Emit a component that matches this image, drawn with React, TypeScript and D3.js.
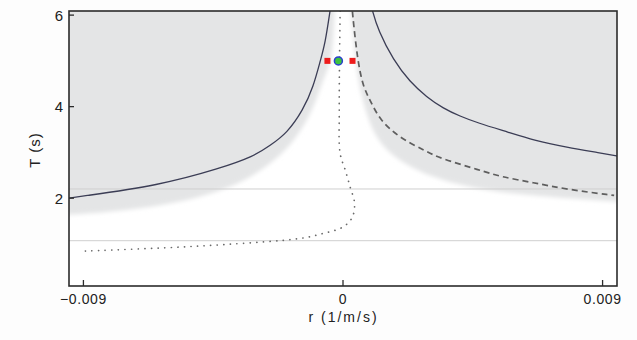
import React from 'react';
import * as d3 from 'd3';

// axis ticks
const xTicks = [-0.009, 0, 0.009];
const yTicks = [2, 4, 6];
const refLinesT = [2.2, 1.07];

// solid curve, left branch
const solidLeftR = [-0.0096, -0.0093, -0.00634, -0.00426, -0.0031, -0.00253, -0.00194, -0.00138, -0.00103, -0.00078, -0.00062, -0.00045, -0.0004];
const solidLeftT = [1.99, 2.02, 2.28, 2.65, 2.91, 3.15, 3.42, 3.93, 4.43, 5.02, 5.38, 6.09, 6.3];

// solid curve, right branch
const solidRightR = [0.00095, 0.00102, 0.00122, 0.00174, 0.00232, 0.0029, 0.00348, 0.00406, 0.00464, 0.00579, 0.00659, 0.00777, 0.00891, 0.0096];
const solidRightT = [6.3, 6.09, 5.67, 5.02, 4.54, 4.21, 3.96, 3.79, 3.65, 3.43, 3.27, 3.11, 2.99, 2.91];

// dashed curve
const dashedR = [0.0003, 0.00032, 0.0005, 0.0007, 0.00094, 0.00128, 0.00198, 0.0029, 0.00336, 0.00476, 0.00544, 0.00659, 0.00777, 0.0094];
const dashedT = [6.3, 6.09, 5.02, 4.43, 4.14, 3.7, 3.31, 3.02, 2.87, 2.61, 2.47, 2.34, 2.19, 2.06];

// dotted curve
const dottedR = [-0.0001, -0.00013, -0.0001, 0.00008, 0.00025, 0.0004, 0.00032, 0.0, -0.00068, -0.00148, -0.004, -0.00634, -0.0091];
const dottedT = [6.09, 3.92, 2.98, 2.61, 2.24, 1.89, 1.58, 1.37, 1.23, 1.12, 0.99, 0.91, 0.84];

// lower edge of the grey band
const bandLeftR = [-0.011, -0.0093, -0.00634, -0.004, -0.00262, -0.00172, -0.00103, -0.00068, -0.00034, -0.00027];
const bandLeftT = [1.6, 1.63, 1.8, 2.17, 2.68, 3.2, 3.92, 4.64, 5.02, 6.6];
const bandRightR = [0.0002, 0.00043, 0.0006, 0.00105, 0.00188, 0.00303, 0.00476, 0.00709, 0.011];
const bandRightT = [6.6, 5.02, 4.3, 3.33, 2.83, 2.46, 2.17, 2.02, 1.86];

// markers at T = 5
const redR = [-0.00054, 0.00033];
const markT = 5.0;
const greenR = [-0.00016];

const W = 637;
const H = 340;
const left = 69, right = 617, top = 11, bottom = 286;

const pairs = (rs: number[], ts: number[]) => rs.map((r, i) => [r, ts[i]] as [number, number]);

const App = () => {
  const x = d3.scaleLinear().domain([-0.0095, 0.0095]).range([left, right]);
  const y = d3.scaleLinear().domain([0.08, 6.09]).range([bottom, top]);

  // B-spline smooths out small reading errors in the traced points
  const smooth = d3.line<[number, number]>()
    .x((d) => x(d[0]))
    .y((d) => y(d[1]))
    .curve(d3.curveBasis);

  const loop = d3.line<[number, number]>()
    .x((d) => x(d[0]))
    .y((d) => y(d[1]))
    .curve(d3.curveCatmullRom.alpha(0.5));

  const band = d3.area<[number, number]>()
    .x((d) => x(d[0]))
    .y0((d) => y(d[1]))
    .y1(() => y(7.5))
    .curve(d3.curveBasis);

  const font = 'Liberation Sans, Arial, sans-serif';
  const fmt = (v: number) => (v === 0 ? '0' : (v < 0 ? '\u2212' : '') + Math.abs(v).toFixed(3));

  return (
    <svg width={W} height={H} style={{ position: 'absolute', left: 0, top: 0, background: '#fdfdfd' }}>
      <defs>
        <clipPath id="plot">
          <rect x={left} y={top} width={right - left} height={bottom - top} />
        </clipPath>
        <filter id="soft" x="-10%" y="-10%" width="120%" height="120%">
          <feGaussianBlur stdDeviation="2" />
        </filter>
      </defs>
      <rect x={left} y={top} width={right - left} height={bottom - top} fill="#ffffff" />
      <g clipPath="url(#plot)">
        <g filter="url(#soft)" fill="#e4e5e6">
          <path d={band(pairs(bandLeftR, bandLeftT)) || ''} />
          <path d={band(pairs(bandRightR, bandRightT)) || ''} />
        </g>
        {refLinesT.map((t) => (
          <line key={t} x1={left} x2={right} y1={y(t)} y2={y(t)} stroke="#cfcfcf" strokeWidth={1} />
        ))}
        <path d={loop(pairs(dottedR, dottedT)) || ''} fill="none" stroke="#6a6a6a" strokeWidth={1.7}
          strokeDasharray="0.1,6.5" strokeLinecap="round" />
        <path d={smooth(pairs(dashedR, dashedT)) || ''} fill="none" stroke="#5e5e5e" strokeWidth={1.7}
          strokeDasharray="6,4" />
        <path d={smooth(pairs(solidLeftR, solidLeftT)) || ''} fill="none" stroke="#3b3d55" strokeWidth={1.3} />
        <path d={smooth(pairs(solidRightR, solidRightT)) || ''} fill="none" stroke="#3b3d55" strokeWidth={1.3} />
        {redR.map((r) => (
          <rect key={r} x={x(r) - 3} y={y(markT) - 3} width={6} height={6} fill="#ee1c1c" />
        ))}
        {greenR.map((r) => (
          <circle key={r} cx={x(r)} cy={y(markT)} r={4} fill="#3ec43e" stroke="#2a3fd0" strokeWidth={1.5} />
        ))}
      </g>
      <rect x={left} y={top} width={right - left} height={bottom - top} fill="none" stroke="#2b2b2b" strokeWidth={1.6} />
      {yTicks.map((t) => (
        <g key={t}>
          <line x1={left} x2={left + 5} y1={y(t)} y2={y(t)} stroke="#2b2b2b" strokeWidth={1.3} />
          <text x={left - 6} y={y(t)} dy="0.36em" textAnchor="end" fontFamily={font} fontSize={15} fill="#222">
            {t}
          </text>
        </g>
      ))}
      {xTicks.map((v) => (
        <g key={v}>
          <line x1={x(v)} x2={x(v)} y1={bottom} y2={bottom - 6} stroke="#2b2b2b" strokeWidth={1.3} />
          <text x={x(v)} y={304} textAnchor="middle" fontFamily={font} fontSize={14} letterSpacing={0.6} fill="#222">
            {fmt(v)}
          </text>
        </g>
      ))}
      <text x={(left + right) / 2 + 0.5} y={322} textAnchor="middle" fontFamily={font} fontSize={14}
        letterSpacing={2} fill="#222">
        r (1/m/s)
      </text>
      <text transform={`translate(40,150) rotate(-90)`} textAnchor="middle"
        fontFamily={font} fontSize={15} letterSpacing={1} fill="#222">
        T (s)
      </text>
    </svg>
  );
};

export default App;
